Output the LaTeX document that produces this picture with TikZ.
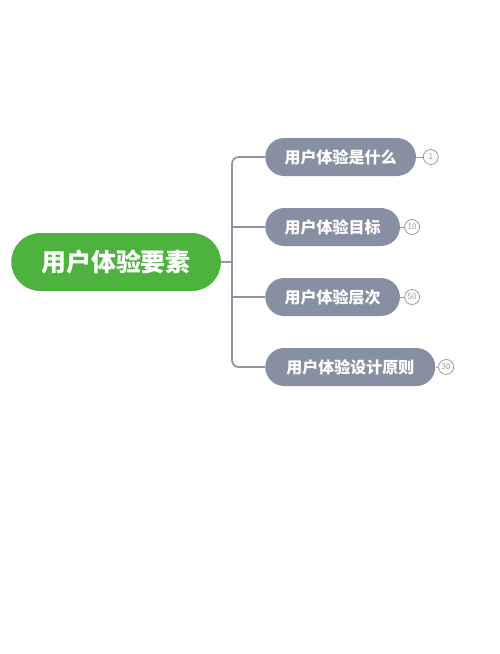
\documentclass[tikz,border=0pt]{standalone}
\usepackage{fontspec}
\setmainfont{Noto Sans CJK SC}
\usepackage{tikz}
\usetikzlibrary{positioning}

\definecolor{rootgreen}{HTML}{4DB23E}
\definecolor{topicgrey}{HTML}{8790A3}
\definecolor{linegrey}{HTML}{8E95A3}
\definecolor{badgegrey}{HTML}{9A9A9A}

\tikzset{
  rootbox/.style={fill=rootgreen, text=white, rounded corners=21.75pt,
    minimum height=43.5pt, inner xsep=22.5pt, font=\fontsize{18.7}{21}\selectfont\bfseries},
  topicbox/.style={fill=topicgrey, text=white, rounded corners=14.25pt,
    minimum height=28.5pt, inner xsep=14.5pt, font=\fontsize{12}{14}\selectfont\bfseries},
  badge/.style={circle, draw=badgegrey, line width=0.6pt, fill=white, text=badgegrey,
    minimum size=11.25pt, inner sep=0pt, font=\fontsize{6}{7}\selectfont},
  link/.style={draw=linegrey, line width=1.3pt}
}

\begin{document}
\begin{tikzpicture}[x=0.75pt, y=-0.75pt]
        % Fix the page size
        \useasboundingbox[fill=white] (0, 0) rectangle (500, 654);

        % Draw the root node
        \node[rootbox, anchor=west] (root) at (11, 262) {用户体验要素};

        % Draw the topic nodes
        \node[topicbox, anchor=west] (what) at (265, 157) {用户体验是什么};
        \node[topicbox, anchor=west] (goal) at (265, 227) {用户体验目标};
        \node[topicbox, anchor=west] (layer) at (265, 297) {用户体验层次};
        \node[topicbox, anchor=west, minimum width=127.5pt] (rule) at (265, 367) {用户体验设计原则};

        % Draw the connectors
        \coordinate (trunk) at (232, 262);
        \draw[link] (root.east) -- (trunk);
        \draw[link, rounded corners=5pt] (trunk) |- (what.west);
        \draw[link] (trunk) |- (goal.west);
        \draw[link] (trunk) |- (layer.west);
        \draw[link, rounded corners=5pt] (trunk) |- (rule.west);

        % Add the badges
        \node[badge, right=5pt of what.east, anchor=west] (whatnum) {1};
        \node[badge, right=3pt of goal.east, anchor=west] (goalnum) {10};
        \node[badge, right=3pt of layer.east, anchor=west] (layernum) {50};
        \node[badge, right=2pt of rule.east, anchor=west] (rulenum) {30};
        \draw[draw=badgegrey, line width=0.6pt] (what.east) -- (whatnum.west);
        \draw[draw=badgegrey, line width=0.6pt] (goal.east) -- (goalnum.west);
        \draw[draw=badgegrey, line width=0.6pt] (layer.east) -- (layernum.west);
        \draw[draw=badgegrey, line width=0.6pt] (rule.east) -- (rulenum.west);
    \end{tikzpicture}
\end{document}
